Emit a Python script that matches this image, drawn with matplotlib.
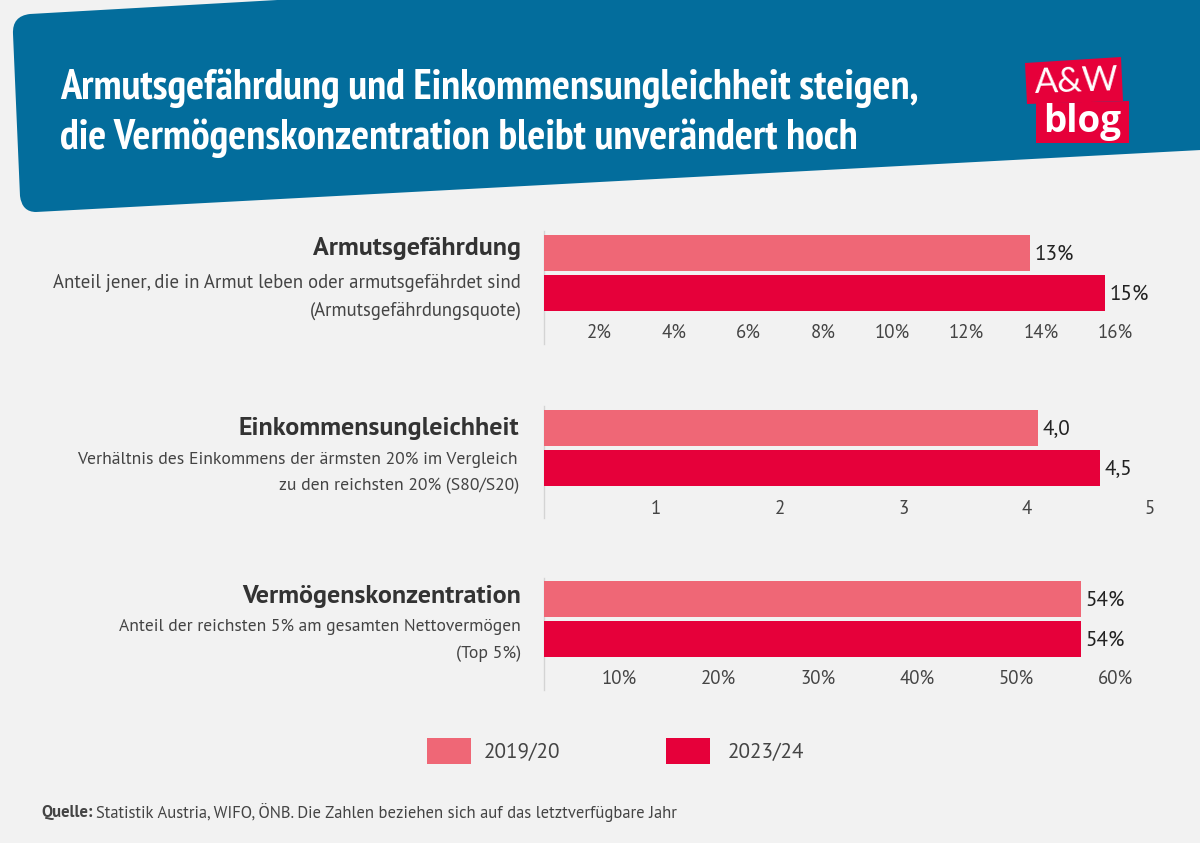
import matplotlib
matplotlib.use('Agg')
import matplotlib.pyplot as plt
from matplotlib.patches import Polygon, PathPatch, Rectangle
from matplotlib.path import Path

# values
years = ['2019/20', '2023/24']
poverty = [13.06, 15.08]
inequality = [4.0, 4.5]
wealth = [54.1, 54.1]
poverty_labels = ['13%', '15%']
inequality_labels = ['4,0', '4,5']
wealth_labels = ['54%', '54%']
poverty_ticks = [2, 4, 6, 8, 10, 12, 14, 16]
inequality_ticks = [1, 2, 3, 4, 5]
wealth_ticks = [10, 20, 30, 40, 50, 60]

BG = '#f2f2f2'
BLUE = '#036d9c'
LIGHT = '#ef6776'
RED = '#e6003a'
DARK = '#333333'
W, H = 1200, 843
BODY = ['PT Sans', 'Noto Sans', 'DejaVu Sans']
NARROW = ['PT Sans Narrow', 'Roboto Condensed', 'DejaVu Sans']

fig = plt.figure(figsize=(W / 100, H / 100), dpi=100, facecolor=BG)

# background axes in pixel coordinates for header, texts and legend
bg = fig.add_axes([0, 0, 1, 1])
bg.set_xlim(0, W)
bg.set_ylim(H, 0)
bg.axis('off')

verts = [(30, 14), (295, -1), (1201, -1), (1201, 150), (36, 212), (22, 212), (20, 196),
         (13, 34), (12, 16), (30, 14), (30, 14)]
codes = [Path.MOVETO, Path.LINETO, Path.LINETO, Path.LINETO, Path.LINETO, Path.CURVE3, Path.CURVE3,
         Path.LINETO, Path.CURVE3, Path.CURVE3, Path.CLOSEPOLY]
bg.add_patch(PathPatch(Path(verts, codes), fc=BLUE, ec='none'))

bg.text(60, 88, 'Armutsgefährdung und Einkommensungleichheit steigen,', color='white',
        family=NARROW, weight='bold', fontsize=30.4, va='center')
bg.text(60, 138, 'die Vermögenskonzentration bleibt unverändert hoch', color='white',
        family=NARROW, weight='bold', fontsize=30.4, va='center')

# logo
bg.add_patch(Polygon([(1025, 63), (1121, 57), (1123, 101), (1027, 104)], fc=RED, ec='none'))
bg.add_patch(Polygon([(1036, 103), (1129, 101), (1129, 143), (1036, 143)], fc=RED, ec='none'))
bg.text(1077, 82, 'A&W', color='white', family=['Lato', 'DejaVu Sans'], fontsize=25,
        ha='center', va='center', rotation=2)
bg.text(1082, 122, 'blog', color='white', family=['Open Sans', 'DejaVu Sans'], weight='bold', fontsize=26.5,
        ha='center', va='center')


def panel(top, bottom, xmax_px, xmax, values, labels, ticks, suffix, tick_y):
    # top and bottom are pixel rows of the bars; left edge of every axis sits at 544
    ax = fig.add_axes([544 / W, 1 - bottom / H, xmax_px / W, (bottom - top) / H])
    ax.set_xlim(0, xmax)
    ax.set_ylim(1.5, -0.5)
    ax.axis('off')
    ax.barh([0, 1], values, height=0.9, color=[LIGHT, RED], edgecolor='none')
    for i, v in enumerate(values):
        ax.annotate(labels[i], (v, i), xytext=(3.5, -0.7), textcoords='offset points',
                    va='center', fontsize=15.2, family=BODY, color='#222222', annotation_clip=False)
    for t in ticks:
        ax.annotate(f'{t}{suffix}', (t, 1.5), xytext=(-4.5, -(tick_y - bottom) * 0.72), textcoords='offset points',
                    ha='right', va='center', fontsize=13.6, family=BODY, color='#444444', annotation_clip=False)


panel(233, 313, 600, 600 / 37.2, poverty, poverty_labels, poverty_ticks, '%', 333)
panel(408, 488, 620, 620 / 123.5, inequality, inequality_labels, inequality_ticks, '', 509)
panel(579, 659, 600, 600 / 9.92, wealth, wealth_labels, wealth_ticks, '%', 679)

# thin axis lines left of the bars
for y0, y1 in [(231, 344), (406, 518), (578, 690)]:
    bg.plot([543.5, 543.5], [y0, y1], color='#d4d4d4', lw=1)

# row texts on the left: text, right edge, y, font size
heads = [('Armutsgefährdung', 521, 248), ('Einkommensungleichheit', 519, 429), ('Vermögenskonzentration', 521, 596)]
notes = [
    ('Anteil jener, die in Armut leben oder armutsgefährdet sind', 521, 283, 13.5),
    ('(Armutsgefährdungsquote)', 522, 311, 13.4),
    ('Verhältnis des Einkommens der ärmsten 20% im Vergleich', 518, 460, 12.7),
    ('zu den reichsten 20% (S80/S20)', 519, 486, 12.7),
    ('Anteil der reichsten 5% am gesamten Nettovermögen', 521, 627, 12.65),
    ('(Top 5%)', 521, 654, 12.8),
]
for head, x, y in heads:
    bg.text(x, y, head, ha='right', va='center', family=BODY, weight='bold', fontsize=18.7, color=DARK)
for note, x, y, size in notes:
    bg.text(x, y, note, ha='right', va='center', family=BODY, fontsize=size, color='#444444')

# legend
for x, c, name, tx in [(427, LIGHT, years[0], 484), (666, RED, years[1], 728)]:
    bg.add_patch(Rectangle((x, 738), 44, 26, fc=c, ec='none'))
    bg.text(tx, 752, name, va='center', family=BODY, fontsize=15.2, color='#444444')

# source
bg.text(41, 812, 'Quelle:', va='center', family=BODY, weight='bold', fontsize=12, color='#444444')
bg.text(96, 812, 'Statistik Austria, WIFO, ÖNB. Die Zahlen beziehen sich auf das letztverfügbare Jahr',
        va='center', family=BODY, fontsize=12, color='#444444')

fig.savefig('out.png', dpi=100, facecolor=BG)
